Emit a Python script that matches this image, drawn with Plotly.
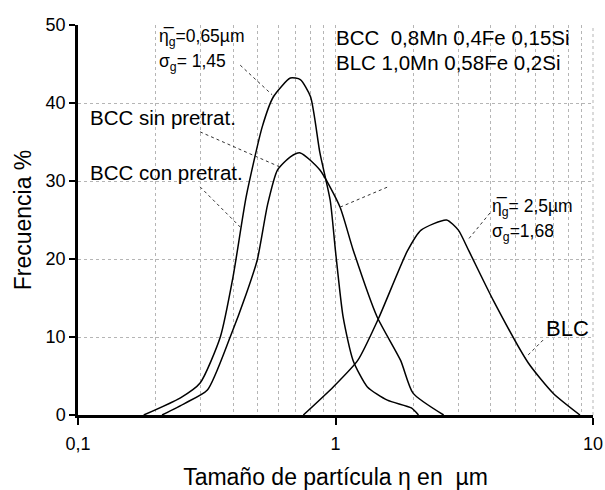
import plotly.graph_objects as go

# Data (particle size in µm, frequency %)
bcc_con_x = [0.18, 0.25, 0.298, 0.357, 0.40, 0.45, 0.52, 0.574, 0.668, 0.73, 0.80, 0.87, 0.954, 1.0, 1.07, 1.17, 1.33, 1.59, 1.97, 2.1]
bcc_con_y = [0, 2.2, 4.1, 10, 17.7, 28, 37, 40.8, 43.2, 43, 40.8, 33.6, 27.5, 21, 12.6, 7, 3.6, 1.9, 0.9, 0]

bcc_sin_x = [0.212, 0.26, 0.318, 0.39, 0.45, 0.497, 0.545, 0.595, 0.668, 0.73, 0.87, 1.04, 1.17, 1.45, 1.79, 2.0, 2.63]
bcc_sin_y = [0, 1.5, 3.2, 10, 15.5, 19.9, 27, 31.4, 33.1, 33.6, 31.4, 26.7, 21.2, 12.6, 7, 2.8, 0]

blc_x = [0.75, 0.98, 1.22, 1.47, 1.9, 2.15, 2.7, 3.0, 3.3, 4.1, 5.6, 7.0, 8.9]
blc_y = [0, 3.6, 7, 12.4, 21, 23.7, 25, 23.7, 21, 14.7, 6.7, 2.8, 0]

x_major = [0.1, 1, 10]
x_major_text = ["0,1", "1", "10"]
x_minor = [0.2, 0.3, 0.4, 0.5, 0.6, 0.7, 0.8, 0.9, 2, 3, 4, 5, 6, 7, 8, 9]
y_ticks = [0, 10, 20, 30, 40, 50]

FONT = "Liberation Sans, Arial, sans-serif"

fig = go.Figure()
for xs, ys, name in [(bcc_con_x, bcc_con_y, "BCC con pretrat."),
                     (bcc_sin_x, bcc_sin_y, "BCC sin pretrat."),
                     (blc_x, blc_y, "BLC")]:
    fig.add_trace(go.Scatter(x=xs, y=ys, mode="lines", name=name,
                             line=dict(color="black", width=1.5, shape="spline", smoothing=0.6),
                             showlegend=False))

fig.update_layout(
    width=605, height=490,
    margin=dict(l=78, r=12, t=25, b=75, autoexpand=False),
    paper_bgcolor="white", plot_bgcolor="white",
    font=dict(family=FONT, color="black"),
    xaxis=dict(type="log", range=[-1, 1], tickvals=x_major, ticktext=x_major_text,
               ticks="outside", ticklen=7, tickwidth=2, tickcolor="black",
               showline=True, linecolor="black", linewidth=2.5,
               showgrid=True, gridcolor="#b5b5b5", griddash="dot", gridwidth=1,
               minor=dict(tickvals=x_minor, showgrid=True, gridcolor="#b5b5b5",
                          griddash="dot", gridwidth=1, ticks=""),
               tickfont=dict(size=18), ticklabelstandoff=4, automargin=False,
               title=dict(text="Tamaño de partícula η en  µm", font=dict(size=23), standoff=20),
               zeroline=False, mirror=False),
    yaxis=dict(range=[0, 50], tickvals=y_ticks,
               ticks="outside", ticklen=6, tickwidth=2, tickcolor="black",
               showline=True, linecolor="black", linewidth=2.5,
               showgrid=True, gridcolor="#b5b5b5", griddash="dot", gridwidth=1,
               tickfont=dict(size=18), automargin=False,
               title=dict(text="Frecuencia %", font=dict(size=23), standoff=8),
               zeroline=False),
)

# right border dotted
fig.add_shape(type="line", xref="paper", yref="paper", x0=1, x1=1, y0=0, y1=1,
              line=dict(color="#b5b5b5", width=1, dash="dot"))

def txt(x, y, s, size=16):
    fig.add_annotation(xref="paper", yref="paper", x=x, y=y, text=s, showarrow=False,
                       xanchor="left", yanchor="middle", font=dict(size=size, family=FONT))

txt(0.153, 0.969, "η̅<sub>g</sub>=0,65µm", 17.5)
txt(0.153, 0.903, "σ<sub>g</sub>= 1,45", 17.5)
txt(0.020, 0.762, "BCC sin pretrat.", 20.5)
txt(0.020, 0.623, "BCC con pretrat.", 20.5)
txt(0.497, 0.967, "BCC  0,8Mn 0,4Fe 0,15Si", 20.5)
txt(0.497, 0.903, "BLC 1,0Mn 0,58Fe 0,2Si", 20.5)
txt(0.800, 0.533, "η̅<sub>g</sub>= 2,5µm", 17.5)
txt(0.800, 0.467, "σ<sub>g</sub>=1,68", 17.5)
txt(0.905, 0.223, "BLC", 22)

pointers = [
    (0.315, 0.897, 0.377, 0.821),
    (0.237, 0.726, 0.392, 0.636),
    (0.237, 0.585, 0.315, 0.482),
    (0.509, 0.533, 0.602, 0.585),
    (0.800, 0.518, 0.757, 0.449),
    (0.903, 0.192, 0.868, 0.146),
]
for x0, y0, x1, y1 in pointers:
    fig.add_shape(type="line", xref="paper", yref="paper", x0=x0, y0=y0, x1=x1, y1=y1,
                  line=dict(color="#333333", width=1, dash="dot"))

fig.write_html("out.html")
